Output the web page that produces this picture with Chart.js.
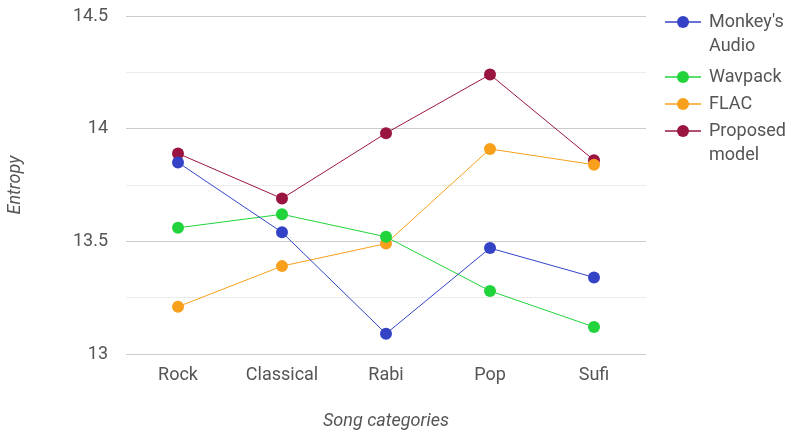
<!DOCTYPE html>
<html>
<head>
<meta charset="utf-8">
<script src="https://cdn.jsdelivr.net/npm/chart.js@4/dist/chart.umd.min.js"></script>
<style>
  html, body { margin: 0; padding: 0; background: #fff; }
  #wrap { width: 789px; height: 434px; position: relative; }
</style>
</head>
<body>
<div id="wrap"><canvas id="c" width="789" height="434"></canvas></div>
<script>
// Entropy per song category for each codec
const categories = ['Rock', 'Classical', 'Rabi', 'Pop', 'Sufi'];
const seriesNames = [["Monkey's", 'Audio'], ['Wavpack'], ['FLAC'], ['Proposed', 'model']];
const monkeysAudio = [13.85, 13.54, 13.09, 13.47, 13.34];
const wavpack = [13.56, 13.62, 13.52, 13.28, 13.12];
const flac = [13.21, 13.39, 13.49, 13.91, 13.84];
const proposedModel = [13.89, 13.69, 13.98, 14.24, 13.86];
const yTickLabels = ['13', '13.5', '14', '14.5'];

const colors = ['#3443c6', '#22d43c', '#f8a01c', '#9a1440'];
const seriesValues = [monkeysAudio, wavpack, flac, proposedModel];

const FONT = 'Roboto, Arial, sans-serif';
const TEXT = '#555555';

// Right-hand legend with wrapped labels
const sideLegend = {
  id: 'sideLegend',
  afterDraw(chart) {
    const ctx = chart.ctx;
    const rows = [22, 77, 104, 131];
    ctx.save();
    chart.data.datasets.forEach((ds, i) => {
      const y = rows[i];
      ctx.strokeStyle = ds.borderColor;
      ctx.lineWidth = 1.5;
      ctx.beginPath();
      ctx.moveTo(665, y);
      ctx.lineTo(701, y);
      ctx.stroke();
      ctx.fillStyle = ds.backgroundColor;
      ctx.beginPath();
      ctx.arc(683, y, 6, 0, Math.PI * 2);
      ctx.fill();
      ctx.fillStyle = TEXT;
      ctx.font = '18px ' + FONT;
      ctx.textBaseline = 'middle';
      ctx.textAlign = 'left';
      seriesNames[i].forEach((line, k) => {
        ctx.fillText(line, 709, y + k * 24);
      });
    });
    ctx.restore();
  }
};

new Chart(document.getElementById('c'), {
  type: 'line',
  data: {
    labels: categories,
    datasets: seriesValues.map((vals, i) => ({
      label: seriesNames[i].join(' '),
      data: vals,
      borderColor: colors[i],
      backgroundColor: colors[i],
      borderWidth: 1,
      pointRadius: 6,
      pointHoverRadius: 6,
      pointBorderWidth: 0,
      tension: 0
    }))
  },
  options: {
    responsive: false,
    animation: false,
    devicePixelRatio: 1,
    layout: { padding: { top: 16, right: 143, left: 0, bottom: 0 } },
    plugins: {
      legend: { display: false },
      tooltip: { enabled: false }
    },
    scales: {
      x: {
        offset: true,
        grid: { display: false, drawTicks: false },
        border: { display: false },
        ticks: { color: TEXT, font: { family: FONT, size: 18 }, padding: 11 },
        title: {
          display: true, text: 'Song categories', color: TEXT,
          font: { family: FONT, size: 18, style: 'italic' },
          padding: { top: 0, bottom: 2 }
        },
        afterFit(s) { s.height = 80; s.paddingLeft = 0; s.paddingRight = 0; }
      },
      y: {
        min: 13, max: 14.5,
        grid: {
          drawTicks: false,
          color: ctx => (Math.abs(ctx.tick.value * 2 - Math.round(ctx.tick.value * 2)) < 1e-6) ? '#cccccc' : '#ebebeb',
          lineWidth: 1
        },
        border: { display: false },
        ticks: {
          stepSize: 0.25,
          color: TEXT,
          font: { family: FONT, size: 18 },
          padding: 18,
          callback: v => {
            const idx = Math.round((v - 13) * 2);
            return Math.abs((v - 13) * 2 - idx) < 1e-6 ? yTickLabels[idx] : '';
          }
        },
        title: {
          display: true, text: 'Entropy', color: TEXT,
          font: { family: FONT, size: 18, style: 'italic' },
          padding: { top: 5, bottom: 0 }
        },
        afterFit(s) { s.width = 126; s.paddingTop = 0; s.paddingBottom = 0; }
      }
    }
  },
  plugins: [sideLegend]
});
</script>
</body>
</html>
